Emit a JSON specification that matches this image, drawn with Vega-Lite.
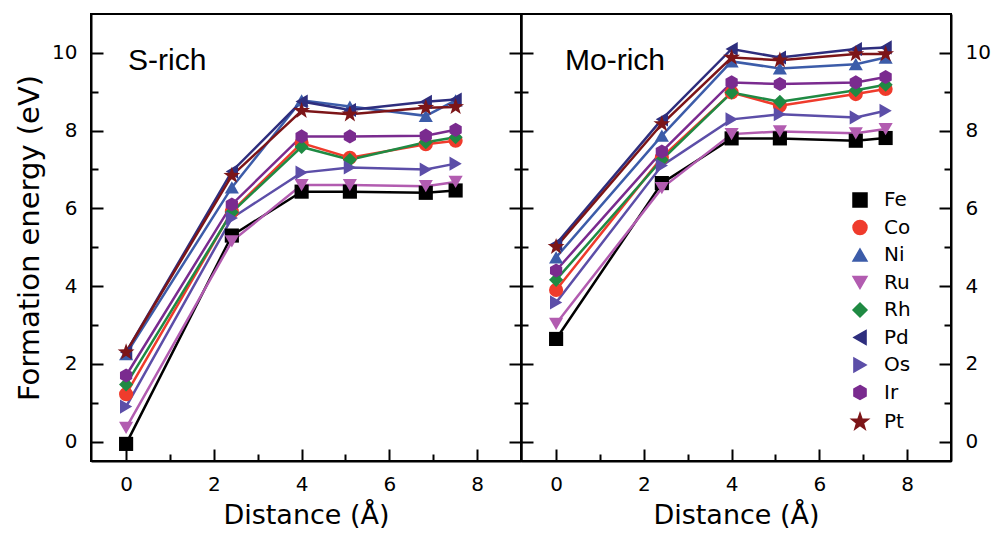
{
  "$schema": "https://vega.github.io/schema/vega-lite/v6.json",
  "background": "white",
  "padding": {"left": 14, "top": 13, "right": 5, "bottom": 5},
  "config": {
    "view": {"stroke": "black", "strokeWidth": 2},
    "font": "DejaVu Sans",
    "axis": {"domainColor": "black", "domainWidth": 2, "tickColor": "black", "tickWidth": 2, "labelColor": "black", "titleColor": "black", "labelFont": "DejaVu Sans", "titleFont": "DejaVu Sans", "labelFontSize": 20, "titleFontSize": 27, "titleFontWeight": "normal", "grid": false, "labelOverlap": false, "labelFlush": false},
    "legend": {"orient": "none", "legendX": 329, "legendY": 176, "title": null, "labelFontSize": 20, "labelFont": "DejaVu Sans", "labelColor": "black", "symbolSize": 196, "labelOffset": 14, "rowPadding": 7.5, "padding": 0}
  },
  "datasets": {
    "d": [
      {"panel": "S-rich", "metal": "Fe", "distance": 0, "energy": -0.06},
      {"panel": "S-rich", "metal": "Fe", "distance": 2.41, "energy": 5.30},
      {"panel": "S-rich", "metal": "Fe", "distance": 4.0, "energy": 6.43},
      {"panel": "S-rich", "metal": "Fe", "distance": 5.1, "energy": 6.43},
      {"panel": "S-rich", "metal": "Fe", "distance": 6.83, "energy": 6.40},
      {"panel": "S-rich", "metal": "Fe", "distance": 7.51, "energy": 6.46},
      {"panel": "S-rich", "metal": "Co", "distance": 0, "energy": 1.22},
      {"panel": "S-rich", "metal": "Co", "distance": 2.41, "energy": 5.92},
      {"panel": "S-rich", "metal": "Co", "distance": 4.0, "energy": 7.68},
      {"panel": "S-rich", "metal": "Co", "distance": 5.1, "energy": 7.30},
      {"panel": "S-rich", "metal": "Co", "distance": 6.83, "energy": 7.65},
      {"panel": "S-rich", "metal": "Co", "distance": 7.51, "energy": 7.74},
      {"panel": "S-rich", "metal": "Ni", "distance": 0, "energy": 2.25},
      {"panel": "S-rich", "metal": "Ni", "distance": 2.41, "energy": 6.54},
      {"panel": "S-rich", "metal": "Ni", "distance": 4.0, "energy": 8.78},
      {"panel": "S-rich", "metal": "Ni", "distance": 5.1, "energy": 8.62},
      {"panel": "S-rich", "metal": "Ni", "distance": 6.83, "energy": 8.38},
      {"panel": "S-rich", "metal": "Ni", "distance": 7.51, "energy": 8.78},
      {"panel": "S-rich", "metal": "Ru", "distance": 0, "energy": 0.35},
      {"panel": "S-rich", "metal": "Ru", "distance": 2.41, "energy": 5.15},
      {"panel": "S-rich", "metal": "Ru", "distance": 4.0, "energy": 6.60},
      {"panel": "S-rich", "metal": "Ru", "distance": 5.1, "energy": 6.60},
      {"panel": "S-rich", "metal": "Ru", "distance": 6.83, "energy": 6.57},
      {"panel": "S-rich", "metal": "Ru", "distance": 7.51, "energy": 6.68},
      {"panel": "S-rich", "metal": "Rh", "distance": 0, "energy": 1.47},
      {"panel": "S-rich", "metal": "Rh", "distance": 2.41, "energy": 5.90},
      {"panel": "S-rich", "metal": "Rh", "distance": 4.0, "energy": 7.58},
      {"panel": "S-rich", "metal": "Rh", "distance": 5.1, "energy": 7.25},
      {"panel": "S-rich", "metal": "Rh", "distance": 6.83, "energy": 7.70},
      {"panel": "S-rich", "metal": "Rh", "distance": 7.51, "energy": 7.83},
      {"panel": "S-rich", "metal": "Pd", "distance": 0, "energy": 2.30},
      {"panel": "S-rich", "metal": "Pd", "distance": 2.41, "energy": 6.95},
      {"panel": "S-rich", "metal": "Pd", "distance": 4.0, "energy": 8.75},
      {"panel": "S-rich", "metal": "Pd", "distance": 5.1, "energy": 8.53},
      {"panel": "S-rich", "metal": "Pd", "distance": 6.83, "energy": 8.74},
      {"panel": "S-rich", "metal": "Pd", "distance": 7.51, "energy": 8.80},
      {"panel": "S-rich", "metal": "Os", "distance": 0, "energy": 0.90},
      {"panel": "S-rich", "metal": "Os", "distance": 2.41, "energy": 5.75},
      {"panel": "S-rich", "metal": "Os", "distance": 4.0, "energy": 6.92},
      {"panel": "S-rich", "metal": "Os", "distance": 5.1, "energy": 7.05},
      {"panel": "S-rich", "metal": "Os", "distance": 6.83, "energy": 7.00},
      {"panel": "S-rich", "metal": "Os", "distance": 7.51, "energy": 7.15},
      {"panel": "S-rich", "metal": "Ir", "distance": 0, "energy": 1.70},
      {"panel": "S-rich", "metal": "Ir", "distance": 2.41, "energy": 6.10},
      {"panel": "S-rich", "metal": "Ir", "distance": 4.0, "energy": 7.85},
      {"panel": "S-rich", "metal": "Ir", "distance": 5.1, "energy": 7.85},
      {"panel": "S-rich", "metal": "Ir", "distance": 6.83, "energy": 7.87},
      {"panel": "S-rich", "metal": "Ir", "distance": 7.51, "energy": 8.02},
      {"panel": "S-rich", "metal": "Pt", "distance": 0, "energy": 2.30},
      {"panel": "S-rich", "metal": "Pt", "distance": 2.41, "energy": 6.84},
      {"panel": "S-rich", "metal": "Pt", "distance": 4.0, "energy": 8.51},
      {"panel": "S-rich", "metal": "Pt", "distance": 5.1, "energy": 8.42},
      {"panel": "S-rich", "metal": "Pt", "distance": 6.83, "energy": 8.59},
      {"panel": "S-rich", "metal": "Pt", "distance": 7.51, "energy": 8.61},
      {"panel": "Mo-rich", "metal": "Fe", "distance": 0, "energy": 2.64},
      {"panel": "Mo-rich", "metal": "Fe", "distance": 2.41, "energy": 6.65},
      {"panel": "Mo-rich", "metal": "Fe", "distance": 4.0, "energy": 7.80},
      {"panel": "Mo-rich", "metal": "Fe", "distance": 5.1, "energy": 7.80},
      {"panel": "Mo-rich", "metal": "Fe", "distance": 6.83, "energy": 7.74},
      {"panel": "Mo-rich", "metal": "Fe", "distance": 7.51, "energy": 7.81},
      {"panel": "Mo-rich", "metal": "Co", "distance": 0, "energy": 3.90},
      {"panel": "Mo-rich", "metal": "Co", "distance": 2.41, "energy": 7.31},
      {"panel": "Mo-rich", "metal": "Co", "distance": 4.0, "energy": 8.98},
      {"panel": "Mo-rich", "metal": "Co", "distance": 5.1, "energy": 8.64},
      {"panel": "Mo-rich", "metal": "Co", "distance": 6.83, "energy": 8.94},
      {"panel": "Mo-rich", "metal": "Co", "distance": 7.51, "energy": 9.07},
      {"panel": "Mo-rich", "metal": "Ni", "distance": 0, "energy": 4.74},
      {"panel": "Mo-rich", "metal": "Ni", "distance": 2.41, "energy": 7.87},
      {"panel": "Mo-rich", "metal": "Ni", "distance": 4.0, "energy": 9.78},
      {"panel": "Mo-rich", "metal": "Ni", "distance": 5.1, "energy": 9.60},
      {"panel": "Mo-rich", "metal": "Ni", "distance": 6.83, "energy": 9.71},
      {"panel": "Mo-rich", "metal": "Ni", "distance": 7.51, "energy": 9.88},
      {"panel": "Mo-rich", "metal": "Ru", "distance": 0, "energy": 3.03},
      {"panel": "Mo-rich", "metal": "Ru", "distance": 2.41, "energy": 6.52},
      {"panel": "Mo-rich", "metal": "Ru", "distance": 4.0, "energy": 7.91},
      {"panel": "Mo-rich", "metal": "Ru", "distance": 5.1, "energy": 7.98},
      {"panel": "Mo-rich", "metal": "Ru", "distance": 6.83, "energy": 7.93},
      {"panel": "Mo-rich", "metal": "Ru", "distance": 7.51, "energy": 8.04},
      {"panel": "Mo-rich", "metal": "Rh", "distance": 0, "energy": 4.16},
      {"panel": "Mo-rich", "metal": "Rh", "distance": 2.41, "energy": 7.25},
      {"panel": "Mo-rich", "metal": "Rh", "distance": 4.0, "energy": 8.98},
      {"panel": "Mo-rich", "metal": "Rh", "distance": 5.1, "energy": 8.74},
      {"panel": "Mo-rich", "metal": "Rh", "distance": 6.83, "energy": 9.04},
      {"panel": "Mo-rich", "metal": "Rh", "distance": 7.51, "energy": 9.18},
      {"panel": "Mo-rich", "metal": "Pd", "distance": 0, "energy": 5.08},
      {"panel": "Mo-rich", "metal": "Pd", "distance": 2.41, "energy": 8.29},
      {"panel": "Mo-rich", "metal": "Pd", "distance": 4.0, "energy": 10.10},
      {"panel": "Mo-rich", "metal": "Pd", "distance": 5.1, "energy": 9.88},
      {"panel": "Mo-rich", "metal": "Pd", "distance": 6.83, "energy": 10.10},
      {"panel": "Mo-rich", "metal": "Pd", "distance": 7.51, "energy": 10.14},
      {"panel": "Mo-rich", "metal": "Os", "distance": 0, "energy": 3.58},
      {"panel": "Mo-rich", "metal": "Os", "distance": 2.41, "energy": 7.10},
      {"panel": "Mo-rich", "metal": "Os", "distance": 4.0, "energy": 8.29},
      {"panel": "Mo-rich", "metal": "Os", "distance": 5.1, "energy": 8.42},
      {"panel": "Mo-rich", "metal": "Os", "distance": 6.83, "energy": 8.34},
      {"panel": "Mo-rich", "metal": "Os", "distance": 7.51, "energy": 8.51},
      {"panel": "Mo-rich", "metal": "Ir", "distance": 0, "energy": 4.40},
      {"panel": "Mo-rich", "metal": "Ir", "distance": 2.41, "energy": 7.46},
      {"panel": "Mo-rich", "metal": "Ir", "distance": 4.0, "energy": 9.24},
      {"panel": "Mo-rich", "metal": "Ir", "distance": 5.1, "energy": 9.20},
      {"panel": "Mo-rich", "metal": "Ir", "distance": 6.83, "energy": 9.24},
      {"panel": "Mo-rich", "metal": "Ir", "distance": 7.51, "energy": 9.38},
      {"panel": "Mo-rich", "metal": "Pt", "distance": 0, "energy": 5.01},
      {"panel": "Mo-rich", "metal": "Pt", "distance": 2.41, "energy": 8.17},
      {"panel": "Mo-rich", "metal": "Pt", "distance": 4.0, "energy": 9.88},
      {"panel": "Mo-rich", "metal": "Pt", "distance": 5.1, "energy": 9.81},
      {"panel": "Mo-rich", "metal": "Pt", "distance": 6.83, "energy": 9.97},
      {"panel": "Mo-rich", "metal": "Pt", "distance": 7.51, "energy": 9.97}
    ]
  },
  "data": {"name": "d"},
  "spacing": 0,
  "bounds": "flush",
  "resolve": {"scale": {"color": "shared", "shape": "shared"}, "legend": {"color": "independent", "shape": "independent"}},
  "hconcat": [
    {
      "width": 430,
      "height": 447,
      "title": {"text": "S-rich", "anchor": "start", "frame": "group", "orient": "top", "offset": -62, "dx": 37, "fontSize": 30, "fontWeight": "normal", "font": "Liberation Sans", "color": "black"},
      "transform": [{"filter": "datum.panel == 'S-rich'"}],
      "resolve": {"axis": {"y": "independent"}},
      "layer": [
        {
          "mark": {"type": "line", "strokeWidth": 2.5},
          "encoding": {
            "x": {"field": "distance", "type": "quantitative", "scale": {"domain": [-0.8, 9], "nice": false, "zero": false},
              "axis": {"orient": "bottom", "values": [0, 1, 2, 3, 4, 5, 6, 7, 8], "labelExpr": "datum.value % 2 == 0 ? datum.label : ''", "tickSize": {"condition": {"test": "datum.value % 2 != 0", "value": -7}, "value": -12}, "labelPadding": 25, "title": "Distance (Å)", "titlePadding": 3}},
            "y": {"field": "energy", "type": "quantitative", "scale": {"domain": [-0.5, 11], "nice": false, "zero": false},
              "axis": {"orient": "left", "values": [0, 1, 2, 3, 4, 5, 6, 7, 8, 9, 10], "labelExpr": "datum.value % 2 == 0 ? datum.label : ''", "tickSize": {"condition": {"test": "datum.value % 2 != 0", "value": -7}, "value": -12}, "labelPadding": 26, "title": "Formation energy (eV)", "titleFontSize": 29, "titlePadding": 7}},
            "color": {"field": "metal", "type": "nominal", "scale": {"domain": ["Fe", "Co", "Ni", "Ru", "Rh", "Pd", "Os", "Ir", "Pt"], "range": ["#000000", "#ef3b2c", "#3c5ca9", "#b25cb0", "#1f8a43", "#2e2e7e", "#5c4ea8", "#7a2b8f", "#7c1518"]}, "legend": null}
          }
        },
        {
          "mark": {"type": "point", "filled": true, "size": 200, "opacity": 1},
          "encoding": {
            "x": {"field": "distance", "type": "quantitative", "scale": {"domain": [-0.8, 9], "nice": false, "zero": false}},
            "y": {"field": "energy", "type": "quantitative", "scale": {"domain": [-0.5, 11], "nice": false, "zero": false},
              "axis": {"orient": "right", "values": [0, 1, 2, 3, 4, 5, 6, 7, 8, 9, 10], "labels": false, "tickSize": {"condition": {"test": "datum.value % 2 != 0", "value": -7}, "value": -12}, "title": null}},
            "color": {"field": "metal", "type": "nominal", "legend": null},
            "shape": {"field": "metal", "type": "nominal", "scale": {"domain": ["Fe", "Co", "Ni", "Ru", "Rh", "Pd", "Os", "Ir", "Pt"], "range": ["square", "circle", "triangle-up", "triangle-down", "diamond", "triangle-left", "triangle-right", "M0,-1L0.866,-0.5L0.866,0.5L0,1L-0.866,0.5L-0.866,-0.5Z", "M0,-1.25L0.294,-0.405L1.189,-0.386L0.475,0.155L0.735,1.011L0,0.5L-0.735,1.011L-0.475,0.155L-1.189,-0.386L-0.294,-0.405Z"]}, "legend": null}
          }
        }
      ]
    },
    {
      "width": 430,
      "height": 447,
      "title": {"text": "Mo-rich", "anchor": "start", "frame": "group", "orient": "top", "offset": -62, "dx": 44, "fontSize": 30, "fontWeight": "normal", "font": "Liberation Sans", "color": "black"},
      "transform": [{"filter": "datum.panel == 'Mo-rich'"}],
      "resolve": {"axis": {"y": "independent"}},
      "layer": [
        {
          "mark": {"type": "line", "strokeWidth": 2.5},
          "encoding": {
            "x": {"field": "distance", "type": "quantitative", "scale": {"domain": [-0.8, 9], "nice": false, "zero": false},
              "axis": {"orient": "bottom", "values": [0, 1, 2, 3, 4, 5, 6, 7, 8], "labelExpr": "datum.value % 2 == 0 ? datum.label : ''", "tickSize": {"condition": {"test": "datum.value % 2 != 0", "value": -7}, "value": -12}, "labelPadding": 25, "title": "Distance (Å)", "titlePadding": 3}},
            "y": {"field": "energy", "type": "quantitative", "scale": {"domain": [-0.5, 11], "nice": false, "zero": false},
              "axis": {"orient": "left", "values": [0, 1, 2, 3, 4, 5, 6, 7, 8, 9, 10], "labels": false, "tickSize": {"condition": {"test": "datum.value % 2 != 0", "value": -7}, "value": -12}, "title": null}},
            "color": {"field": "metal", "type": "nominal", "scale": {"domain": ["Fe", "Co", "Ni", "Ru", "Rh", "Pd", "Os", "Ir", "Pt"], "range": ["#000000", "#ef3b2c", "#3c5ca9", "#b25cb0", "#1f8a43", "#2e2e7e", "#5c4ea8", "#7a2b8f", "#7c1518"]}}
          }
        },
        {
          "mark": {"type": "point", "filled": true, "size": 200, "opacity": 1},
          "encoding": {
            "x": {"field": "distance", "type": "quantitative", "scale": {"domain": [-0.8, 9], "nice": false, "zero": false}},
            "y": {"field": "energy", "type": "quantitative", "scale": {"domain": [-0.5, 11], "nice": false, "zero": false},
              "axis": {"orient": "right", "values": [0, 1, 2, 3, 4, 5, 6, 7, 8, 9, 10], "labelExpr": "datum.value % 2 == 0 ? datum.label : ''", "tickSize": {"condition": {"test": "datum.value % 2 != 0", "value": -7}, "value": -12}, "labelPadding": 26, "title": null}},
            "color": {"field": "metal", "type": "nominal",
              "legend": {"orient": "none", "legendX": 329, "legendY": 176, "title": null, "symbolSize": 196, "labelOffset": 14, "rowPadding": 7.5}},
            "shape": {"field": "metal", "type": "nominal", "scale": {"domain": ["Fe", "Co", "Ni", "Ru", "Rh", "Pd", "Os", "Ir", "Pt"], "range": ["square", "circle", "triangle-up", "triangle-down", "diamond", "triangle-left", "triangle-right", "M0,-1L0.866,-0.5L0.866,0.5L0,1L-0.866,0.5L-0.866,-0.5Z", "M0,-1.25L0.294,-0.405L1.189,-0.386L0.475,0.155L0.735,1.011L0,0.5L-0.735,1.011L-0.475,0.155L-1.189,-0.386L-0.294,-0.405Z"]},
              "legend": {"orient": "none", "legendX": 329, "legendY": 176, "title": null, "symbolSize": 196, "labelOffset": 14, "rowPadding": 7.5}}
          }
        }
      ]
    }
  ]
}
